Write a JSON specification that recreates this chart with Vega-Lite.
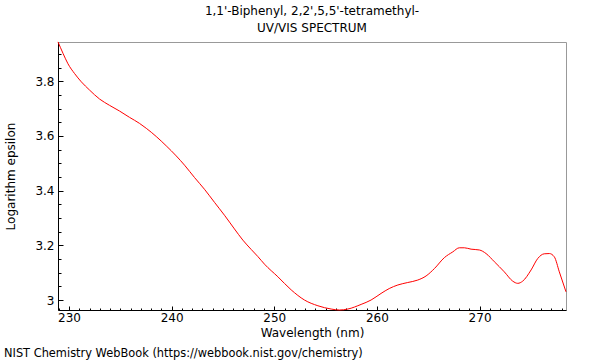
{
  "$schema": "https://vega.github.io/schema/vega-lite/v6.json",
  "autosize": {"type": "pad"},
  "padding": {"left": 3, "top": 5, "right": 35, "bottom": 2},
  "background": "white",
  "title": {
    "text": ["1,1'-Biphenyl, 2,2',5,5'-tetramethyl-", "UV/VIS SPECTRUM"],
    "anchor": "middle",
    "frame": "group",
    "fontSize": 12,
    "fontWeight": "normal",
    "lineHeight": 17,
    "offset": 4,
    "color": "black"
  },
  "bounds": "flush",
  "vconcat": [
    {
      "width": 508,
      "height": 268,
      "title": {
        "text": "NIST Chemistry WebBook (https://webbook.nist.gov/chemistry)",
        "orient": "bottom",
        "anchor": "start",
        "frame": "group",
        "dx": -54,
        "offset": 10,
        "fontSize": 11.4,
        "fontWeight": "normal",
        "color": "black"
      },
      "data": {
        "values": [
          {"wavelength": 228.93, "logeps": 3.944},
          {"wavelength": 229.42, "logeps": 3.902},
          {"wavelength": 229.9, "logeps": 3.864},
          {"wavelength": 230.55, "logeps": 3.828},
          {"wavelength": 231.2, "logeps": 3.798},
          {"wavelength": 232.0, "logeps": 3.768},
          {"wavelength": 232.98, "logeps": 3.735},
          {"wavelength": 233.95, "logeps": 3.712},
          {"wavelength": 234.93, "logeps": 3.691},
          {"wavelength": 235.9, "logeps": 3.668},
          {"wavelength": 236.87, "logeps": 3.646},
          {"wavelength": 237.53, "logeps": 3.628},
          {"wavelength": 238.5, "logeps": 3.598},
          {"wavelength": 239.47, "logeps": 3.564},
          {"wavelength": 240.45, "logeps": 3.527},
          {"wavelength": 241.26, "logeps": 3.493},
          {"wavelength": 242.23, "logeps": 3.448},
          {"wavelength": 243.2, "logeps": 3.405},
          {"wavelength": 244.18, "logeps": 3.357},
          {"wavelength": 245.15, "logeps": 3.31},
          {"wavelength": 246.12, "logeps": 3.26},
          {"wavelength": 246.94, "logeps": 3.219},
          {"wavelength": 247.75, "logeps": 3.185},
          {"wavelength": 248.4, "logeps": 3.159},
          {"wavelength": 249.05, "logeps": 3.131},
          {"wavelength": 250.35, "logeps": 3.085},
          {"wavelength": 251.65, "logeps": 3.037},
          {"wavelength": 252.94, "logeps": 3.0},
          {"wavelength": 254.25, "logeps": 2.979},
          {"wavelength": 255.54, "logeps": 2.967},
          {"wavelength": 256.35, "logeps": 2.9635},
          {"wavelength": 257.17, "logeps": 2.967},
          {"wavelength": 258.46, "logeps": 2.984},
          {"wavelength": 259.43, "logeps": 3.0},
          {"wavelength": 260.4, "logeps": 3.024},
          {"wavelength": 261.2, "logeps": 3.042},
          {"wavelength": 262.04, "logeps": 3.055},
          {"wavelength": 263.0, "logeps": 3.064},
          {"wavelength": 263.98, "logeps": 3.073},
          {"wavelength": 264.79, "logeps": 3.088},
          {"wavelength": 265.6, "logeps": 3.115},
          {"wavelength": 266.57, "logeps": 3.155},
          {"wavelength": 267.39, "logeps": 3.176},
          {"wavelength": 268.03, "logeps": 3.191},
          {"wavelength": 268.52, "logeps": 3.191},
          {"wavelength": 269.17, "logeps": 3.186},
          {"wavelength": 269.98, "logeps": 3.183},
          {"wavelength": 270.63, "logeps": 3.17},
          {"wavelength": 271.44, "logeps": 3.14},
          {"wavelength": 272.41, "logeps": 3.103},
          {"wavelength": 273.23, "logeps": 3.069},
          {"wavelength": 273.72, "logeps": 3.061},
          {"wavelength": 274.2, "logeps": 3.069},
          {"wavelength": 275.02, "logeps": 3.11},
          {"wavelength": 275.67, "logeps": 3.152},
          {"wavelength": 276.3, "logeps": 3.169},
          {"wavelength": 276.8, "logeps": 3.17},
          {"wavelength": 277.28, "logeps": 3.158},
          {"wavelength": 277.77, "logeps": 3.103},
          {"wavelength": 278.42, "logeps": 3.03}
        ]
      },
      "mark": {"type": "line", "color": "#ff0000", "strokeWidth": 1, "interpolate": "monotone"},
      "encoding": {
        "x": {
          "field": "wavelength",
          "type": "quantitative",
          "scale": {"domain": [228.93, 278.42], "nice": false, "zero": false},
          "axis": {
            "title": "Wavelength (nm)",
            "values": [229,230,231,232,233,234,235,236,237,238,239,240,241,242,243,244,245,246,247,248,249,250,251,252,253,254,255,256,257,258,259,260,261,262,263,264,265,266,267,268,269,270,271,272,273,274,275,276,277,278],
            "labelExpr": "datum.value % 10 === 0 ? datum.label : ''",
            "tickSize": -4,
            "tickDash": {"condition": {"test": "datum.value % 10 === 0", "value": [20, 1]}, "value": [2, 20]},
            "labelPadding": 6,
            "titlePadding": 4,
            "labelOverlap": false,
            "labelFlush": false
          }
        },
        "y": {
          "field": "logeps",
          "type": "quantitative",
          "scale": {"domain": [2.9635, 3.9436], "nice": false, "zero": false},
          "axis": {
            "title": "Logarithm epsilon",
            "values": [3.0,3.05,3.1,3.15,3.2,3.25,3.3,3.35,3.4,3.45,3.5,3.55,3.6,3.65,3.7,3.75,3.8,3.85,3.9],
            "labelExpr": "abs(datum.value*5 - round(datum.value*5)) < 0.000001 ? format(datum.value, '~f') : ''",
            "tickSize": -5,
            "tickDash": {"condition": {"test": "abs(datum.value*5 - round(datum.value*5)) < 0.000001", "value": [20, 1]}, "value": [3, 20]},
            "labelPadding": 9,
            "titlePadding": 17,
            "labelOverlap": false,
            "labelFlush": false
          }
        }
      }
    }
  ],
  "config": {
    "font": "DejaVu Sans",
    "view": {"stroke": "#999999", "strokeWidth": 1},
    "axis": {
      "grid": false,
      "domainColor": "black",
      "tickColor": "black",
      "labelColor": "black",
      "titleColor": "black",
      "labelFontSize": 12,
      "titleFontSize": 12,
      "titleFontWeight": "normal"
    }
  }
}
